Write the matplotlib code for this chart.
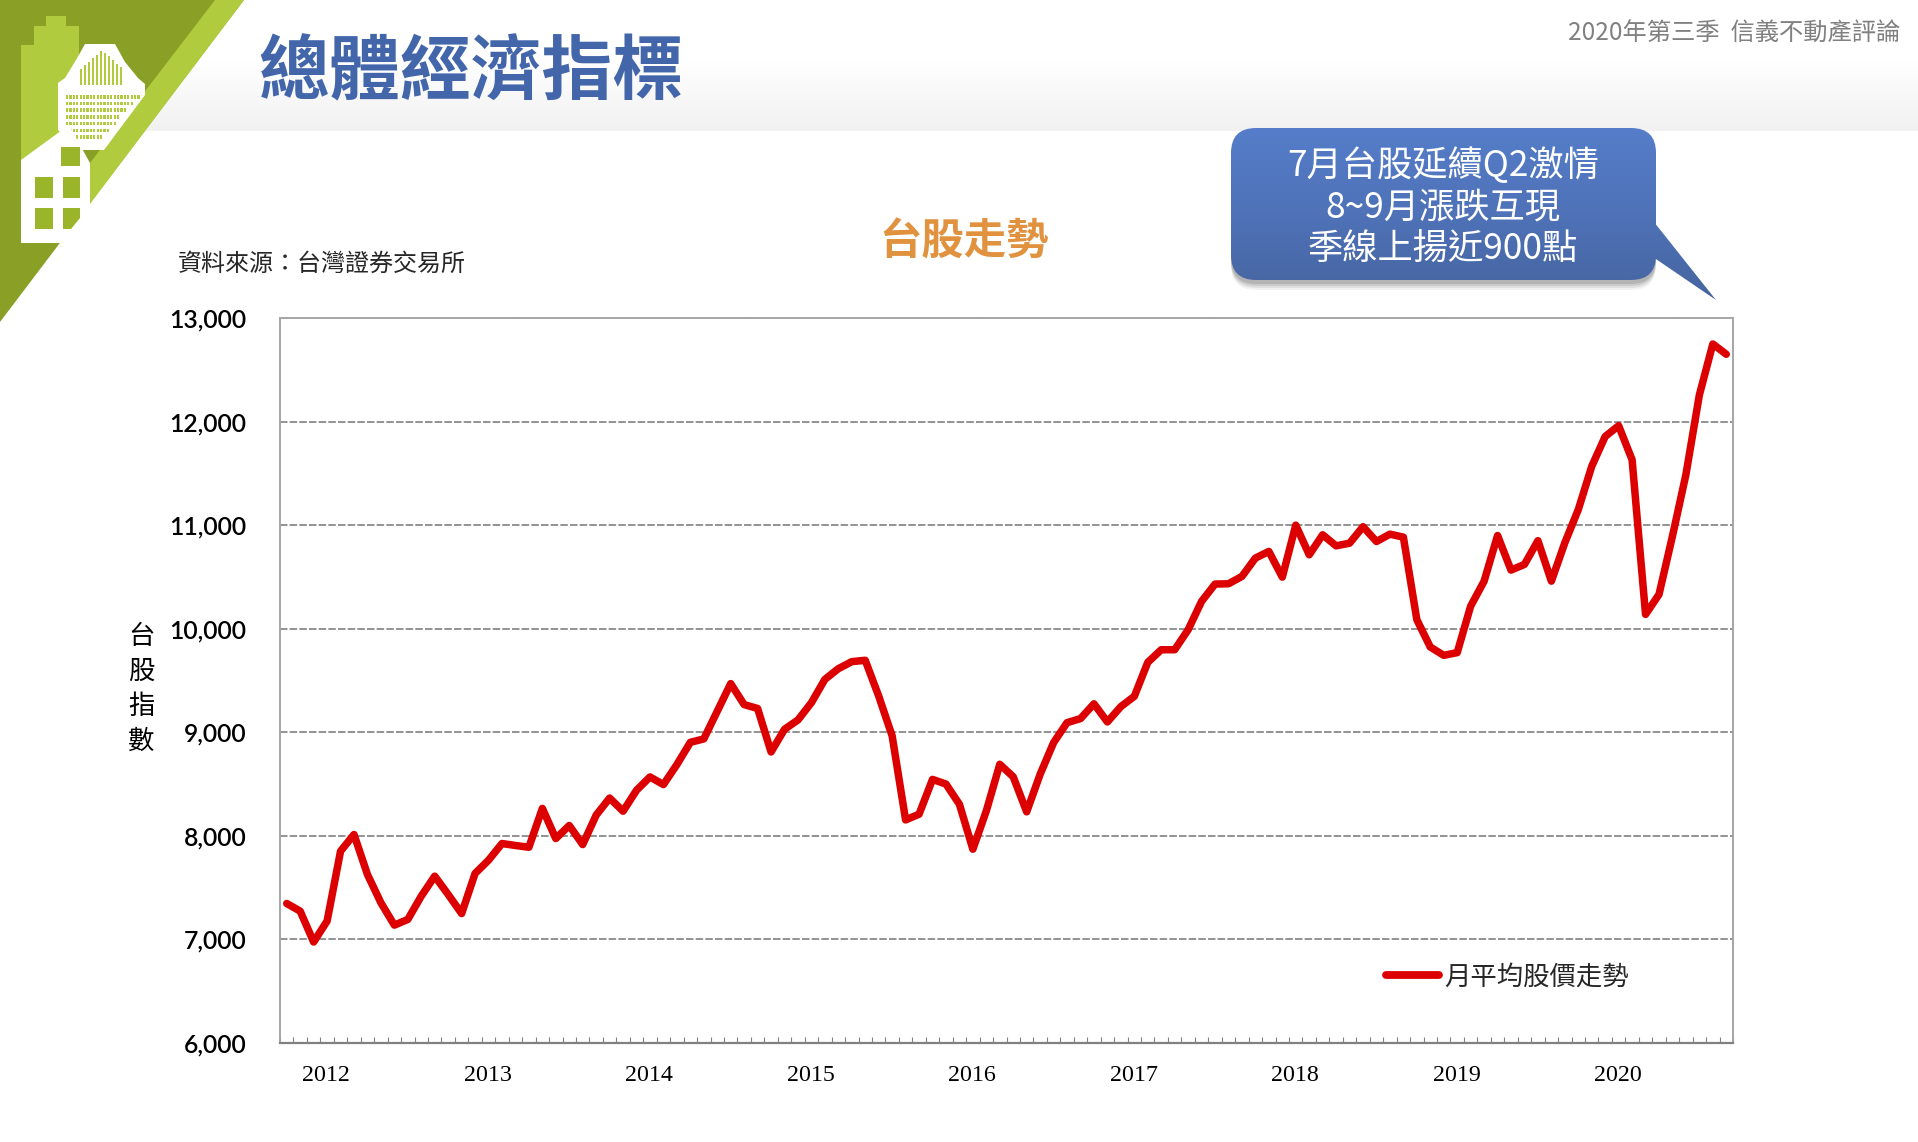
import matplotlib
matplotlib.use('Agg')
import matplotlib.pyplot as plt
import numpy as np
from matplotlib.colors import LinearSegmentedColormap
from matplotlib.patches import FancyBboxPatch, PathPatch, Polygon, Rectangle
from matplotlib.path import Path

plt.rcParams['font.family'] = ['Noto Sans CJK TC', 'DejaVu Sans']

# monthly average, Oct 2011 to Sep 2020
taiex = [7347, 7273, 6975, 7177, 7852, 8013, 7627, 7354, 7138, 7193, 7418, 7611,
         7434, 7250, 7637, 7765, 7926, 7907, 7890, 8265, 7974, 8100, 7916, 8200,
         8365, 8238, 8440, 8569, 8495, 8688, 8903, 8936, 9203, 9470, 9267, 9230,
         8810, 9029, 9119, 9286, 9511, 9614, 9682, 9695, 9350, 8965, 8154, 8209,
         8545, 8500, 8305, 7871, 8241, 8691, 8570, 8232, 8595, 8900, 9093, 9132,
         9275, 9100, 9248, 9347, 9675, 9797, 9797, 9990, 10264, 10431, 10434, 10505,
         10682, 10746, 10498, 11000, 10714, 10907, 10800, 10826, 10985, 10842, 10913, 10884,
         10087, 9823, 9743, 9769, 10218, 10459, 10900, 10566, 10621, 10850, 10459, 10830,
         11150, 11568, 11856, 11960, 11631, 10138, 10331, 10894, 11488, 12257, 12749, 12650]
years = [2012, 2013, 2014, 2015, 2016, 2017, 2018, 2019, 2020]
y_ticks = [6000, 7000, 8000, 9000, 10000, 11000, 12000, 13000]
y_label_chars = ['台', '股', '指', '數']

W, H = 1918, 1142
fig = plt.figure(figsize=(W / 100, H / 100), dpi=100)

# page decoration, in pixel coordinates
bg = fig.add_axes([0, 0, 1, 1], zorder=0)
header = np.r_[np.zeros(60), np.linspace(0, 1, 71)].reshape(-1, 1)
header_cmap = LinearSegmentedColormap.from_list('header', ['#ffffff', '#f1f1f1'])
bg.imshow(header, extent=[0, W, 131, 0], aspect='auto', cmap=header_cmap, zorder=0)

dark_green = '#8a9f25'
light_green = '#b0cb3e'
window_green = '#9ab52a'
bg.add_patch(Polygon([(0, 0), (244, 0), (0, 322)], fc=dark_green, ec='none', zorder=1))
bg.add_patch(Polygon([(215, 0), (244, 0), (90, 204), (90, 163)], fc=light_green, ec='none', zorder=2))
# green tower behind
bg.add_patch(Polygon([(46, 16), (66, 16), (66, 26), (79, 26), (79, 130), (21, 165), (21, 45), (34, 45), (34, 26), (46, 26)],
                     fc=light_green, ec='none', zorder=2))
# white tower
bg.add_patch(Polygon([(85, 44), (115, 44), (125, 62), (138, 78), (145, 84), (145, 95), (104, 150), (80, 150), (58, 130), (58, 83), (65, 78), (76, 60)],
                     fc='white', ec='none', zorder=3))
for x in range(80, 124, 4):
    bg.add_patch(Rectangle((x, 50 + abs(x - 101) * 0.9), 2, 35 - abs(x - 101) * 0.9, fc=light_green, ec='none', zorder=4))
for row in range(7):
    for col in range(22):
        x = 66 + col * 3.4
        y = 95 + row * 6.7
        if x < 138 - row * 6:
            bg.add_patch(Rectangle((x, y), 2.2, 3.5, fc=light_green, ec='none', zorder=4))
# white house
bg.add_patch(Polygon([(21, 243), (21, 160), (69, 125), (90, 163), (90, 204), (62, 243)], fc='white', ec='none', zorder=5))
for x0, y0, w, h in [(61, 147, 19, 19), (35, 177, 18, 21), (63, 177, 17, 21), (35, 208, 18, 21)]:
    bg.add_patch(Rectangle((x0, y0), w, h, fc=window_green, ec='none', zorder=6))
bg.add_patch(Polygon([(63, 208), (80, 208), (80, 218), (71, 229), (63, 229)], fc=window_green, ec='none', zorder=6))

bg.text(258, 73, '總體經濟指標', color='#4366ab', fontsize=51, fontweight='bold', ha='left', va='center', zorder=7)
bg.text(1900, 34, '2020年第三季  信義不動產評論', color='#808080', fontsize=17.5, ha='right', va='center', zorder=7)
bg.text(964, 243, '台股走勢', color='#e0923f', fontsize=30.5, fontweight='bold', ha='center', va='center', zorder=7)
bg.text(178, 264, '資料來源：台灣證券交易所', color='#262626', fontsize=17.3, ha='left', va='center', zorder=7)
for i, ch in enumerate(y_label_chars):
    bg.text(141, 636 + i * 35, ch, color='black', fontsize=19, fontweight='medium', ha='center', va='center', zorder=7)

# callout: shadow, then gradient clipped to the bubble and its tail
bubble_path = Path.make_compound_path(
    FancyBboxPatch((1256, 153), 375, 102, boxstyle='round,pad=25,rounding_size=25').get_path(),
    Path([(1650, 217), (1716, 300), (1650, 255), (1650, 217)], closed=True))
for off, alpha in [(10, 0.05), (8, 0.07), (6, 0.09), (4, 0.11)]:
    bg.add_patch(FancyBboxPatch((1256, 153 + off), 375, 102, boxstyle='round,pad=25,rounding_size=25',
                                fc='black', ec='none', alpha=alpha, zorder=7))
bubble_cmap = LinearSegmentedColormap.from_list('bubble', ['#557dc9', '#4f72b8', '#46649f'])
bubble = bg.imshow(np.linspace(0, 1, 170).reshape(-1, 1), extent=[1225, 1720, 300, 128], aspect='auto',
                   cmap=bubble_cmap, zorder=8)
bubble.set_clip_path(PathPatch(bubble_path, transform=bg.transData))
for y, line in [(166, '7月台股延續Q2激情'), (207, '8~9月漲跌互現'), (249, '季線上揚近900點')]:
    bg.text(1443, y, line, color='white', fontsize=25.4, ha='center', va='center', zorder=9)

bg.set_xlim(0, W)
bg.set_ylim(H, 0)
bg.axis('off')

# the chart
left, right, top, bottom = 280, 1733, 318, 1043
ax = fig.add_axes([left / W, 1 - bottom / H, (right - left) / W, (bottom - top) / H], zorder=1)
ax.patch.set_alpha(0)

months = np.arange(len(taiex)) + 0.5
line, = ax.plot(months, taiex, color='#dc0000', linewidth=5.4, solid_joinstyle='round',
                solid_capstyle='round', label='月平均股價走勢', zorder=3, clip_on=False)

ax.set_xlim(0, len(taiex))
ax.set_ylim(6000, 13000)
ax.set_yticks(y_ticks)
ax.set_yticklabels(['{:,}'.format(v) for v in y_ticks], family='Lato', fontsize=17.8, fontweight='semibold', color='black')
ax.tick_params(axis='y', length=0, pad=24)
ax.grid(axis='y', color='#808080', linewidth=1.2, linestyle=(0, (4.5, 1.3)), zorder=1)

ax.set_xticks(np.arange(0, len(taiex) + 1))
ax.set_xticklabels([])
ax.tick_params(axis='x', which='major', direction='in', length=4.5, width=0.8, color='#808080')
ax.set_xticks([3.45 + 12 * i for i in range(len(years))], minor=True)
ax.set_xticklabels(years, minor=True, family='Liberation Serif', fontsize=17.3, color='black')
ax.tick_params(axis='x', which='minor', length=0, pad=16)

for side in ['top', 'right', 'left']:
    ax.spines[side].set_color('#a6a6a6')
    ax.spines[side].set_linewidth(1.4)
ax.spines['bottom'].set_color('#808080')
ax.spines['bottom'].set_linewidth(1.6)

leg = ax.legend(loc='center left', bbox_to_anchor=((1386 - left) / (right - left), (bottom - 977) / (bottom - top)),
                frameon=False, fontsize=19, handlelength=2.0, handletextpad=0.2, borderpad=0, borderaxespad=0)
leg.get_lines()[0].set_linewidth(5.6)
for t in leg.get_texts():
    t.set_color('#262626')

fig.savefig('out.png', dpi=100)
